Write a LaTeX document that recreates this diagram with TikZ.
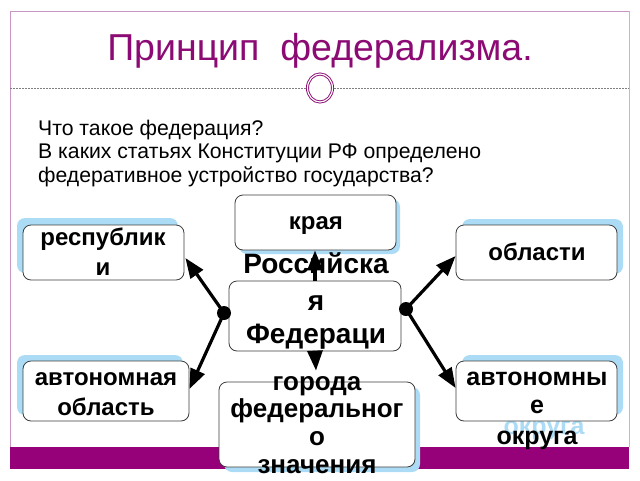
\documentclass[tikz,border=0pt]{standalone}
\usepackage{fontspec}
\setmainfont{Liberation Sans}
\usetikzlibrary{arrows.meta,calc,shapes.geometric}
\definecolor{ttl}{RGB}{140,10,115}
\definecolor{barc}{RGB}{150,0,120}
\definecolor{frm}{RGB}{200,150,195}
\definecolor{frmr}{RGB}{195,185,195}
\definecolor{shd}{RGB}{172,220,245}
\definecolor{bord}{RGB}{60,60,60}
\begin{document}
\begin{tikzpicture}[x=1pt,y=-1pt,
  box/.style={draw=bord,line width=0.8pt,fill=white,rounded corners=8pt,inner sep=0pt},
  shad/.style={fill=shd,rounded corners=8pt,inner sep=0pt},
  lb/.style={anchor=base,inner sep=0pt,font=\bfseries\fontsize{#1}{#1}\selectfont},
  ghost/.style={anchor=base,inner sep=0pt,text=shd,font=\bfseries\fontsize{#1}{#1}\selectfont},
  body/.style={anchor=base west,inner sep=0pt,font=\fontsize{21.2}{23}\selectfont},
  arr/.style={line width=3.2pt,-{Triangle[length=20pt,width=15pt]}},
  dotn/.style={circle,fill=black,inner sep=0pt,minimum size=14pt}]
\useasboundingbox (0,0) rectangle (640,480);
\fill[white] (0,0) rectangle (640,480);
% frame
\coordinate (fTL) at (10,11);
\coordinate (fTR) at (629,11);
\coordinate (fBL) at (10,447);
\coordinate (fBR) at (629,447);
\draw[frm,line width=1pt] (fBL) -- (fTL) -- (fTR);
\draw[frmr,line width=1pt] (fTR) -- (fBR);
\fill[barc] (10,447) rectangle (629,469);
% dashed rule and ring
\coordinate (dL) at (10,88);
\coordinate (dR) at (629,88);
\draw[gray,line width=0.6pt,dash pattern=on 1.5pt off 1.5pt] (dL) -- (dR);
\node[ellipse,draw=ttl,double=white,double distance=1.2pt,line width=0.9pt,fill=white,minimum width=25pt,minimum height=28pt,inner sep=0pt] (ring) at (320,88) {};
% title and question
\node[anchor=base,inner sep=0pt,text=ttl,font=\fontsize{37.5}{37.5}\selectfont] (title) at (320,60) {Принцип\ \ федерализма.};
\node[body] (q1) at (38,135) {Что такое федерация?};
\node[body] (q2) at (38,158.5) {В каких статьях Конституции РФ определено};
\node[body] (q3) at (38,182) {федеративное устройство государства?};
% shadows
\node[shad,minimum width=161pt,minimum height=55pt] (repS) at (97.5,245.5) {};
\node[shad,minimum width=161pt,minimum height=55pt] (krS) at (319.5,226.5) {};
\node[shad,minimum width=161pt,minimum height=55pt] (oblS) at (542.5,246.5) {};
\node[shad,minimum width=166pt,minimum height=60pt] (aoS) at (100,385) {};
\node[shad,minimum width=161pt,minimum height=60pt] (okS) at (542.5,385) {};
\node[shad,minimum width=196pt,minimum height=85pt] (gorS) at (322,429.5) {};
\node[ghost=25] (okG) at (544,434) {округа};
% boxes
\node[box,minimum width=161pt,minimum height=55pt] (rep) at (103.5,252.5) {};
\node[box,minimum width=161pt,minimum height=55pt] (kr) at (315.5,222.5) {};
\node[box,minimum width=161pt,minimum height=55pt] (obl) at (536.5,252.5) {};
\node[box,minimum width=172pt,minimum height=70pt] (rf) at (315,316) {};
\node[box,minimum width=166pt,minimum height=60pt] (ao) at (106,391) {};
\node[box,minimum width=161pt,minimum height=60pt] (ok) at (536.5,391) {};
\node[box,minimum width=196pt,minimum height=85pt] (gor) at (317,424.5) {};
% labels
\node[lb=24] (rep1) at (103,245) {республик};
\node[lb=24] (rep2) at (103,275) {и};
\node[lb=24] (kr1) at (316,229) {края};
\node[lb=24] (obl1) at (537,260) {области};
\node[lb=24] (ao1) at (106,385) {автономная};
\node[lb=24] (ao2) at (106,415) {область};
\node[lb=25] (ok1) at (537,385) {автономны};
\node[lb=25] (ok2) at (537,413) {е};
\node[lb=25] (ok3) at (537,444) {округа};
\node[lb=28] (rf1) at (316,273) {Российска};
\node[lb=28] (rf2) at (316,310) {я};
\node[lb=28] (rf3) at (316,343) {Федераци};
\node[lb=26] (gor1) at (317,390) {города};
\node[lb=26] (gor2) at (317,417) {федеральног};
\node[lb=26] (gor3) at (317,445) {о};
\node[lb=26] (gor4) at (317,473) {значения};
% dots and arrows
\node[dotn] (dotL) at (224,313) {};
\node[dotn] (dotR) at (406,309) {};
\draw[arr] (dotL.center) -- ($(rep.east)+(1,5.5)$);
\draw[arr] (dotL.center) -- ($(ao.east)+(0,-2)$);
\draw[arr] (dotR.center) -- ($(obl.west)+(0,3.5)$);
\draw[arr] (dotR.center) -- ($(ok.west)+(0,-3)$);
\draw[arr] (rf.north) -- (rf.north |- kr.south);
\draw[arr] (rf.south) -- ($(gor.north)+(-1,-11)$);
\end{tikzpicture}
\end{document}
